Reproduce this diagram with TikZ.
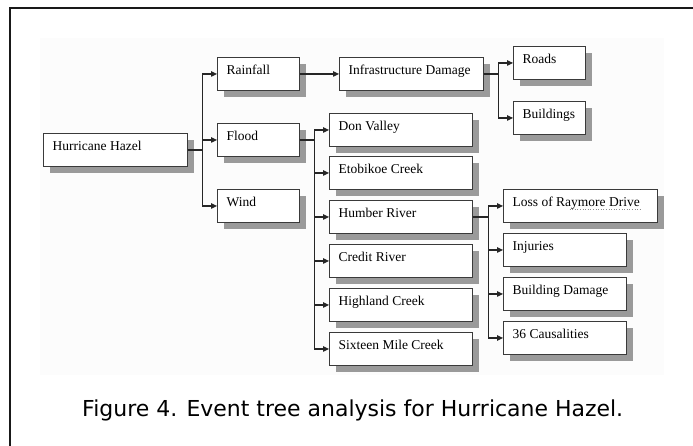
\documentclass[tikz,border=0pt]{standalone}
\usepackage{fontspec}
\setmainfont{Liberation Serif}
\newfontfamily\capfont{DejaVu Sans}
\usetikzlibrary{arrows.meta,shadows}

\definecolor{shadowgray}{HTML}{9A9A9A}
\definecolor{boxline}{HTML}{3A3A3A}
\definecolor{panel}{HTML}{FCFCFC}

\tikzset{
  evbox/.style={rectangle, draw=boxline, fill=white, line width=0.9pt,
    minimum height=33pt, inner sep=0pt, anchor=north west,
    general shadow={fill=shadowgray, shadow xshift=7pt, shadow yshift=-7pt}},
  evtext/.style={anchor=base west, inner sep=0pt,
    font=\fontsize{13.5}{15}\selectfont},
  conn/.style={draw=black!85, line width=1.1pt},
  arr/.style={conn, -{Triangle[length=6pt,width=5.5pt]}},
}

% one event box: name, top-left corner, width, caption text
\newcommand{\evnode}[5]{%
  \node[evbox, minimum width=#4pt] (#1) at (#2,#3) {};
  \node[evtext] (#1-t) at ([shift={(9.5,17.5)}]#1.north west) {#5};
}

\begin{document}
\begin{tikzpicture}[x=1pt, y=-1pt]
  \useasboundingbox (0,0) rectangle (693,445);
  \fill[white] (0,0) rectangle (693,445);

  % frame (open to the right and bottom)
  \draw[line width=2pt, black!90] (10,446) -- (10,7.5) -- (694,7.5);

  % pale panel behind the tree
  \fill[panel] (40,38) rectangle (664,375);

  % level 0 and 1
  \evnode{hh}{43}{133}{144}{Hurricane Hazel}
  \evnode{rain}{217}{57}{82}{Rainfall}
  \evnode{flood}{217}{123}{82}{Flood}
  \evnode{wind}{217}{189}{82}{Wind}

  % rainfall branch
  \evnode{infra}{339}{57}{144}{Infrastructure Damage}
  \evnode{roads}{513}{46}{72}{Roads}
  \evnode{bldg}{513}{101}{72}{Buildings}

  % flood branch
  \evnode{don}{329}{113}{143}{Don Valley}
  \evnode{eto}{329}{156}{143}{Etobikoe Creek}
  \evnode{humber}{329}{200}{143}{Humber River}
  \evnode{credit}{329}{244}{143}{Credit River}
  \evnode{highland}{329}{288}{143}{Highland Creek}
  \evnode{sixteen}{329}{332}{143}{Sixteen Mile Creek}

  % humber river branch
  \evnode{loss}{503}{189}{154}{Loss of Raymore Drive}
  \evnode{inj}{503}{233}{123}{Injuries}
  \evnode{bdmg}{503}{277}{123}{Building Damage}
  \evnode{cas}{503}{321}{123}{36 Causalities}

  % dotted underline under the place name
  \draw[black!45, dotted, line width=0.6pt]
    ([shift={(57,3)}]loss-t.base west) -- ([shift={(0,3)}]loss-t.base east);

  % connectors
  \foreach \c in {rain,flood,wind}
    \draw[arr] (hh.east) -- ++(15,0) |- (\c.west);
  \draw[arr] (rain.east) -- (infra.west);
  \foreach \c in {roads,bldg}
    \draw[arr] (infra.east) -- ++(15,0) |- (\c.west);
  \foreach \c in {don,eto,humber,credit,highland,sixteen}
    \draw[arr] (flood.east) -- ++(15,0) |- (\c.west);
  \foreach \c in {loss,inj,bdmg,cas}
    \draw[arr] (humber.east) -- ++(16,0) |- (\c.west);

  % caption
  \node[anchor=base west, inner sep=0pt] (caption) at (82,416)
    {\resizebox{541pt}{!}{\capfont Figure 4. Event tree analysis for Hurricane Hazel.}};
\end{tikzpicture}
\end{document}
